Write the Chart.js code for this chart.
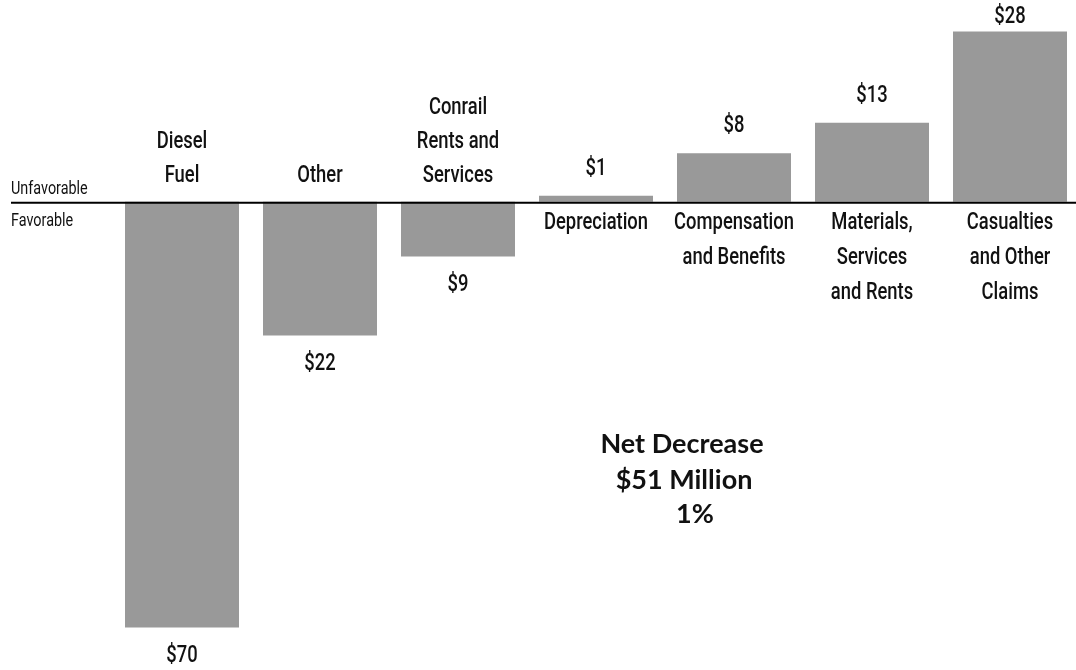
<!DOCTYPE html>
<html>
<head>
<meta charset="utf-8">
<title>Operating Expenses Variance</title>
<script src="https://cdn.jsdelivr.net/npm/chart.js@4.4.0/dist/chart.umd.min.js"></script>
<style>
    html, body { margin: 0; padding: 0; background: #fff; overflow: hidden; }
    #wrap { width: 1080px; height: 670px; }
</style>
</head>
<body>
<div id="wrap"><canvas id="varianceChart" width="1080" height="670"></canvas></div>
<script>
// ========== Data ==========

const categories = [
    ['Diesel', 'Fuel'],
    ['Other'],
    ['Conrail', 'Rents and', 'Services'],
    ['Depreciation'],
    ['Compensation', 'and Benefits'],
    ['Materials,', 'Services', 'and Rents'],
    ['Casualties', 'and Other', 'Claims']
];
// $ millions, negative = favorable
const changes = [-70, -22, -9, 1, 8, 13, 28];
const sideLabels = ['Unfavorable', 'Favorable'];
const netLines = ['Net Decrease', '$51 Million', '1%'];

const labelFont = '500 23px Roboto, "DejaVu Sans Condensed", sans-serif';
const sideFont = '18px Roboto, "DejaVu Sans Condensed", sans-serif';
const netFont = 'bold 27px Lato, "DejaVu Sans", sans-serif';
const narrow = 0.8;   // squeeze factor for the condensed look
const ink = '#111';

// text drawn squeezed horizontally around its own x
function narrowText(ctx, text, x, y, sx) {
    ctx.save();
    ctx.translate(x, y);
    ctx.scale(sx, 1);
    ctx.fillText(text, 0, 0);
    ctx.restore();
}

// ========== Labels plugin ==========

const varianceLabels = {
    id: 'varianceLabels',
    afterDatasetsDraw(chart) {
        const ctx = chart.ctx;
        const zeroY = chart.scales.y.getPixelForValue(0);
        const bars = chart.getDatasetMeta(0).data;

        ctx.save();

        // baseline
        ctx.strokeStyle = '#000';
        ctx.lineWidth = 2;
        ctx.beginPath();
        ctx.moveTo(11, zeroY + 1);
        ctx.lineTo(chart.width, zeroY + 1);
        ctx.stroke();

        ctx.fillStyle = ink;
        ctx.textAlign = 'left';
        ctx.textBaseline = 'middle';
        ctx.font = sideFont;
        narrowText(ctx, sideLabels[0], 11, zeroY - 12, narrow);
        narrowText(ctx, sideLabels[1], 11, zeroY + 20, narrow);

        ctx.textAlign = 'center';
        ctx.font = labelFont;
        bars.forEach((bar, i) => {
            const v = changes[i];
            const lines = categories[i];
            const valueText = '$' + Math.abs(v);
            if (v < 0) {
                // name above the baseline, value under the bar
                lines.forEach((ln, k) => {
                    narrowText(ctx, ln, bar.x, zeroY - 26 - (lines.length - 1 - k) * 34, narrow);
                });
                narrowText(ctx, valueText, bar.x, Math.min(bar.y + 29, chart.height - 14), narrow);
            } else {
                lines.forEach((ln, k) => {
                    narrowText(ctx, ln, bar.x, zeroY + 21 + k * 35, narrow);
                });
                narrowText(ctx, valueText, bar.x, Math.max(bar.y - 27, 17), narrow);
            }
        });

        // net change note
        ctx.font = netFont;
        ctx.fillText(netLines[0], 682, 444);
        ctx.fillText(netLines[1], 684, 480);
        ctx.fillText(netLines[2], 695, 514);

        ctx.restore();
    }
};

// ========== Chart ==========

new Chart(document.getElementById('varianceChart').getContext('2d'), {
    type: 'bar',
    data: {
        labels: categories.map(c => c.join(' ')),
        datasets: [{
            data: changes,
            backgroundColor: '#999999',
            borderWidth: 0,
            categoryPercentage: 1,
            barPercentage: 0.826
        }]
    },
    options: {
        responsive: false,
        animation: false,
        layout: { padding: { left: 113, right: 1, top: 0, bottom: 0 } },
        scales: {
            x: { display: false },
            y: { display: false, min: -77, max: 33.2 }
        },
        plugins: {
            legend: { display: false },
            tooltip: { enabled: false }
        }
    },
    plugins: [varianceLabels]
});
</script>
</body>
</html>
